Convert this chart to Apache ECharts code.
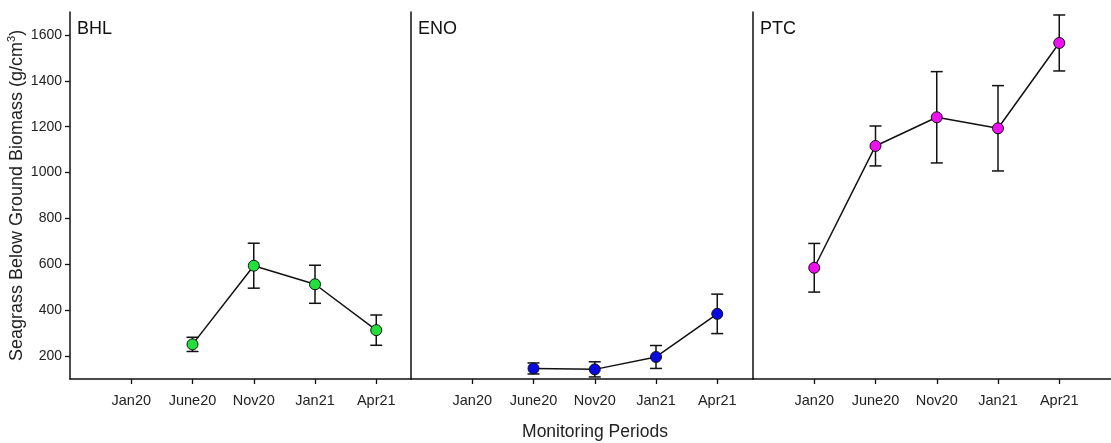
<!DOCTYPE html>
<html>
<head>
<meta charset="utf-8">
<script src="https://cdn.jsdelivr.net/npm/echarts@6/dist/echarts.min.js"></script>
<style>
  html, body { margin: 0; padding: 0; background: #fff; }
  #chart { width: 1111px; height: 443px; }
</style>
</head>
<body>
<div id="chart"></div>
<script>
// Monitoring periods (x categories, placed at positions 1..5)
const periods = ['Jan20', 'June20', 'Nov20', 'Jan21', 'Apr21'];

// Site names (one panel per site)
const sites = ['BHL', 'ENO', 'PTC'];

// Mean below-ground biomass per period (null = not sampled)
const bhlMean = [null, 251, 594, 513, 313];
const enoMean = [null, 146, 142, 196, 384];
const ptcMean = [585, 1116, 1241, 1193, 1565];

// Error bar half-lengths per period
const bhlErr = [null, 31, 98, 83, 66];
const enoErr = [null, 24, 33, 50, 86];
const ptcErr = [106, 87, 199, 186, 122];

// Y-axis tick labels
const yTicks = [200, 400, 600, 800, 1000, 1200, 1400, 1600];

const siteMeans = [bhlMean, enoMean, ptcMean];
const siteErrs = [bhlErr, enoErr, ptcErr];
const siteColors = ['#22e03c', '#0a0ae0', '#ee10ee'];

const FONT = '"Liberation Sans", Arial, sans-serif';
const TXT = '#222';

// Panel geometry (pixels); x-units are scaled so each period step is the same width
const panelLeft = [70, 411, 753];
const panelWidth = [341, 342, 358];
const stepPx = 61.25;

const grids = [], xAxes = [], yAxes = [], series = [];

sites.forEach(function (site, k) {
  grids.push({ left: panelLeft[k], top: 12, width: panelWidth[k], height: 367 });

  xAxes.push({
    type: 'value', gridIndex: k, min: 0, max: panelWidth[k] / stepPx,
    splitLine: { show: false },
    axisLine: { show: true, onZero: false, lineStyle: { color: '#111', width: 1.5 } },
    axisTick: { show: true, length: 5, customValues: periods.map(function (_, i) { return i + 1; }),
                lineStyle: { color: '#111', width: 1.3 } },
    axisLabel: {
      customValues: periods.map(function (_, i) { return i + 1; }),
      formatter: function (v) { return periods[Math.round(v) - 1] || ''; },
      color: TXT, fontFamily: FONT, fontSize: 14.5, margin: 14
    }
  });

  const yAx = {
    type: 'value', gridIndex: k, min: 100, max: 1700,
    splitLine: { show: false },
    axisLine: { show: true, onZero: false, lineStyle: { color: '#111', width: 1.5 } },
    axisTick: { show: k === 0, length: 5, customValues: yTicks, lineStyle: { color: '#111', width: 1.3 } },
    axisLabel: {
      show: k === 0, customValues: yTicks, color: TXT, fontFamily: FONT, fontSize: 14, margin: 8,
      formatter: function (v) { return String(v); }
    }
  };
  if (k === 0) {
    yAx.name = '{t|Seagrass Below Ground Biomass (g/cm}{s|3}{t|)}';
    yAx.nameLocation = 'middle';
    yAx.nameGap = 41;
    yAx.nameRotate = 90;
    yAx.nameTextStyle = {
      rich: {
        t: { fontFamily: FONT, fontSize: 18, color: TXT, lineHeight: 22 },
        s: { fontFamily: FONT, fontSize: 11, color: TXT, lineHeight: 22, padding: [0, 0, 9, 0] }
      }
    };
  }
  yAxes.push(yAx);

  const means = siteMeans[k], errs = siteErrs[k];
  const lineData = [], errData = [];
  means.forEach(function (m, i) {
    if (m != null) {
      lineData.push([i + 1, m]);
      errData.push([i + 1, m - errs[i], m + errs[i]]);
    }
  });

  // Error bars with caps
  series.push({
    type: 'custom', xAxisIndex: k, yAxisIndex: k, z: 2,
    data: errData,
    renderItem: function (params, api) {
      const x = api.value(0);
      const lo = api.coord([x, api.value(1)]);
      const hi = api.coord([x, api.value(2)]);
      const cap = 6;
      const style = { stroke: '#111', lineWidth: 1.5 };
      return {
        type: 'group',
        children: [
          { type: 'line', shape: { x1: lo[0], y1: lo[1], x2: hi[0], y2: hi[1] }, style: style },
          { type: 'line', shape: { x1: hi[0] - cap, y1: hi[1], x2: hi[0] + cap, y2: hi[1] }, style: style },
          { type: 'line', shape: { x1: lo[0] - cap, y1: lo[1], x2: lo[0] + cap, y2: lo[1] }, style: style }
        ]
      };
    }
  });

  // Mean line with circle markers
  series.push({
    type: 'line', xAxisIndex: k, yAxisIndex: k, z: 3,
    data: lineData,
    symbol: 'circle', symbolSize: 11,
    lineStyle: { color: '#111', width: 1.5 },
    itemStyle: { color: siteColors[k], borderColor: '#111', borderWidth: 1 },
    animation: false
  });
});

const chart = echarts.init(document.getElementById('chart'));
chart.setOption({
  animation: false,
  backgroundColor: '#fff',
  grid: grids,
  xAxis: xAxes,
  yAxis: yAxes,
  series: series,
  graphic: sites.map(function (site, k) {
    return {
      type: 'text', x: panelLeft[k] + 7, y: 29,
      style: { text: site, fontFamily: FONT, fontSize: 18, fill: '#111', textVerticalAlign: 'middle' }
    };
  }).concat([{
    type: 'text', x: 595, y: 432,
    style: { text: 'Monitoring Periods', fontFamily: FONT, fontSize: 17.5, fill: TXT,
             textAlign: 'center', textVerticalAlign: 'middle' }
  }])
});
</script>
</body>
</html>
